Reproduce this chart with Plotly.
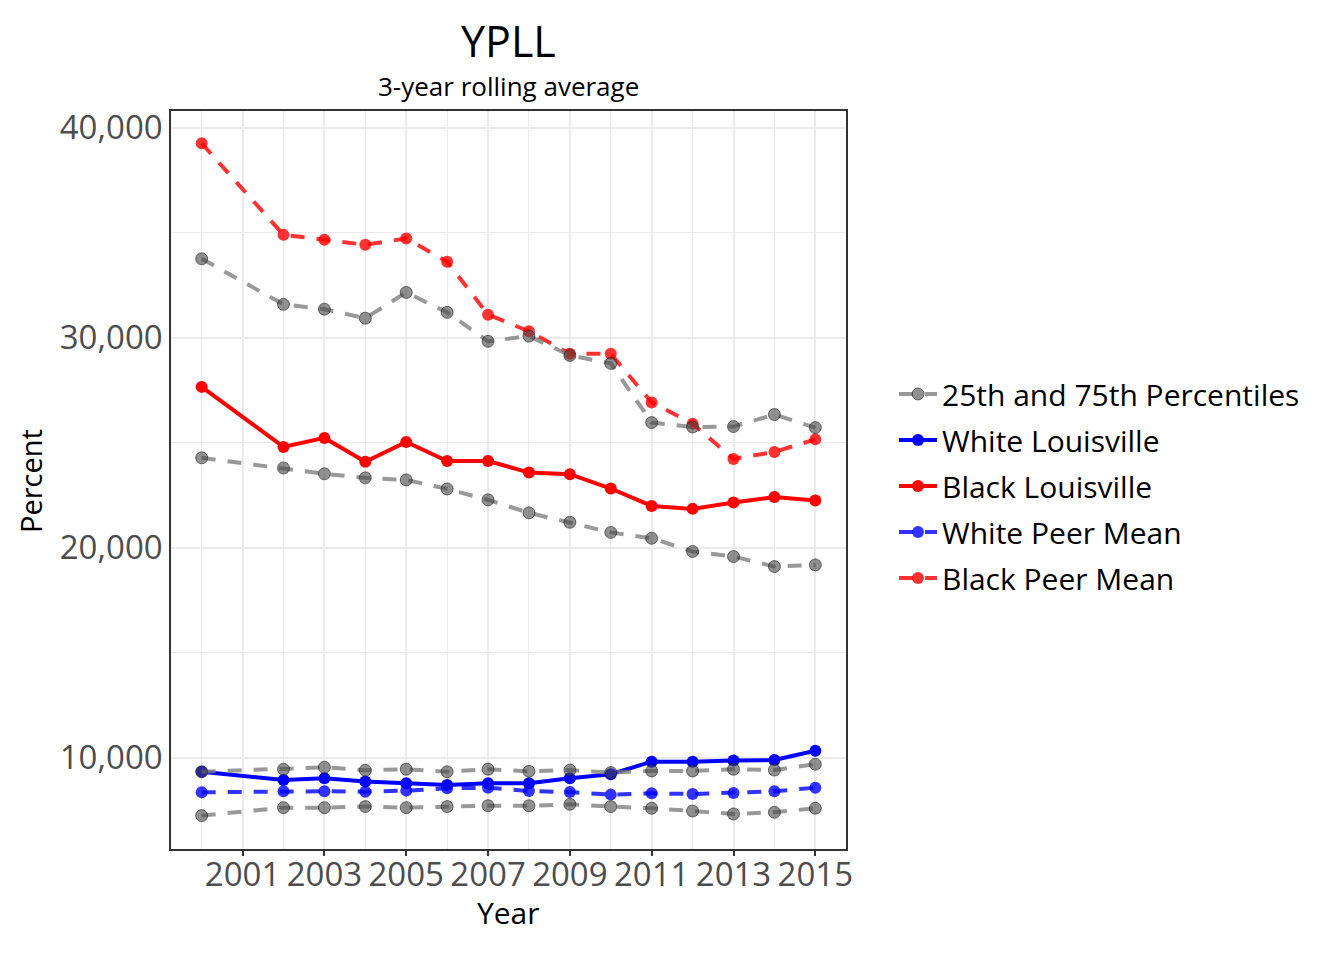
import plotly.graph_objects as go

years = [2000, 2002, 2003, 2004, 2005, 2006, 2007, 2008, 2009, 2010, 2011, 2012, 2013, 2014, 2015]

white_louisville = [9330, 8940, 9020, 8860, 8780, 8700, 8780, 8780, 9020, 9210, 9810, 9810, 9860, 9890, 10330]
black_louisville = [27660, 24800, 25230, 24090, 25040, 24130, 24130, 23580, 23500, 22820, 21990, 21850, 22150, 22410, 22250]
white_peer_mean = [8350, 8400, 8400, 8380, 8430, 8540, 8570, 8410, 8360, 8240, 8300, 8270, 8320, 8400, 8570]
black_peer_mean = [39260, 34900, 34670, 34430, 34730, 33620, 31100, 30310, 29240, 29240, 26920, 25910, 24230, 24560, 25160]
white_p75 = [9330, 9450, 9540, 9400, 9450, 9330, 9450, 9350, 9410, 9290, 9370, 9370, 9450, 9410, 9690]
white_p25 = [7240, 7620, 7620, 7670, 7620, 7670, 7710, 7710, 7780, 7670, 7590, 7460, 7320, 7400, 7590]
black_p75 = [33760, 31590, 31360, 30930, 32160, 31210, 29830, 30080, 29160, 28780, 25960, 25750, 25770, 26340, 25720]
black_p25 = [24280, 23800, 23520, 23330, 23230, 22800, 22280, 21660, 21210, 20730, 20450, 19820, 19580, 19100, 19180]

x_ticks = [2001, 2003, 2005, 2007, 2009, 2011, 2013, 2015]
y_ticks = [10000, 20000, 30000, 40000]
y_tick_labels = ["10,000", "20,000", "30,000", "40,000"]

FONT = "Open Sans"
LW = 4
MS = 12
DASH = "14px,12px"

W, H = 1336, 952
L, T = 163, 103
PW, PH = 675, 738

fig = go.Figure()

fig.add_trace(go.Scatter(
    x=years, y=white_louisville, name="White Louisville", mode="lines+markers",
    line=dict(color="rgb(0,0,255)", width=LW), marker=dict(color="rgb(0,0,255)", size=MS),
    legendrank=2, legendgroup="wl"))
fig.add_trace(go.Scatter(
    x=years, y=black_louisville, name="Black Louisville", mode="lines+markers",
    line=dict(color="rgb(255,0,0)", width=LW), marker=dict(color="rgb(255,0,0)", size=MS),
    legendrank=3, legendgroup="bl"))
fig.add_trace(go.Scatter(
    x=years, y=white_peer_mean, name="White Peer Mean", mode="lines+markers",
    line=dict(color="rgba(0,0,255,0.8)", width=LW, dash=DASH),
    marker=dict(color="rgba(0,0,255,0.8)", size=MS),
    legendrank=4, legendgroup="wp"))
fig.add_trace(go.Scatter(
    x=years, y=black_peer_mean, name="Black Peer Mean", mode="lines+markers",
    line=dict(color="rgba(255,0,0,0.8)", width=LW, dash=DASH),
    marker=dict(color="rgba(255,0,0,0.8)", size=MS),
    legendrank=5, legendgroup="bp"))

for i, series in enumerate([white_p75, white_p25, black_p75, black_p25]):
    fig.add_trace(go.Scatter(
        x=years, y=series, name="25th and 75th Percentiles", mode="lines+markers",
        legendgroup="pct", showlegend=(i == 0), legendrank=1,
        line=dict(color="rgba(128,128,128,0.8)", width=LW, dash=DASH),
        marker=dict(color="rgba(70,70,70,0.6)", size=MS,
                    line=dict(color="rgba(30,30,30,0.6)", width=1))))


def py(pix):
    # pixel y (in screenshot, body offset 8) -> paper coordinate
    return (T + PH - (pix - 8)) / PH


def px(pix):
    return (pix - 8 - L) / PW


fig.update_layout(
    width=W, height=H,
    paper_bgcolor="white", plot_bgcolor="white",
    margin=dict(l=L, r=W - L - PW, t=T, b=H - T - PH),
    font=dict(family=FONT, color="black"),
    showlegend=True,
    legend=dict(x=px(894), y=py(486), xanchor="left", yanchor="middle",
                font=dict(size=30, family=FONT, color="black"),
                bgcolor="rgba(0,0,0,0)", traceorder="grouped", tracegroupgap=4,
                itemwidth=38),
    annotations=[
        dict(text="YPLL", x=0.5, y=py(40), xref="paper", yref="paper",
             showarrow=False, xanchor="center", yanchor="middle",
             font=dict(size=43, family=FONT, color="black")),
        dict(text="3-year rolling average", x=0.5, y=py(86), xref="paper", yref="paper",
             showarrow=False, xanchor="center", yanchor="middle",
             font=dict(size=26, family=FONT, color="black")),
        dict(text="Year", x=0.5, y=py(912), xref="paper", yref="paper",
             showarrow=False, xanchor="center", yanchor="middle",
             font=dict(size=30, family=FONT, color="black")),
        dict(text="Percent", x=px(31), y=py(481), xref="paper", yref="paper",
             showarrow=False, xanchor="center", yanchor="middle", textangle=-90,
             font=dict(size=29, family=FONT, color="black")),
    ],
)

fig.update_xaxes(
    range=[1999.25, 2015.75], tickvals=x_ticks, ticktext=[str(t) for t in x_ticks],
    showgrid=True, gridcolor="#ebebeb", gridwidth=2,
    minor=dict(tickvals=[2000, 2002, 2004, 2006, 2008, 2010, 2012, 2014], showgrid=True,
               gridcolor="#ebebeb", gridwidth=1),
    showline=True, linecolor="#333333", linewidth=1.5, mirror=True,
    ticks="outside", ticklen=5, tickwidth=1.5, tickcolor="#333333",
    ticklabelstandoff=-9,
    tickfont=dict(size=33, family=FONT, color="#4d4d4d"),
    zeroline=False,
)
fig.update_yaxes(
    range=[5650, 40800], tickvals=y_ticks, ticktext=y_tick_labels,
    showgrid=True, gridcolor="#ebebeb", gridwidth=2,
    minor=dict(tickvals=[15000, 25000, 35000], showgrid=True, gridcolor="#ebebeb", gridwidth=1),
    showline=True, linecolor="#333333", linewidth=1.5, mirror=True,
    ticks="", tickfont=dict(size=33, family=FONT, color="#4d4d4d"),
    zeroline=False,
)

fig.write_html("out.html")
